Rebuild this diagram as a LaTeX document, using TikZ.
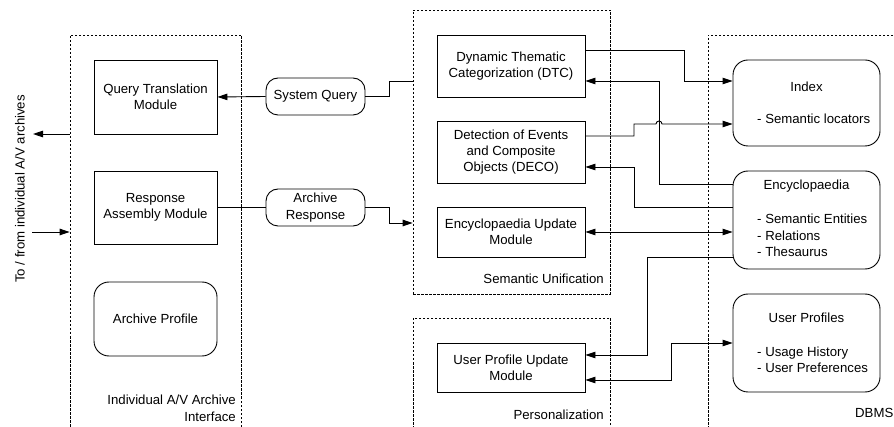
\documentclass[tikz,border=0pt]{standalone}
\usepackage{fontspec}
\setmainfont{Liberation Sans}
\usetikzlibrary{arrows.meta}
\begin{document}
\begin{tikzpicture}[x=1pt,y=-1pt,
  every node/.style={font=\fontsize{13.2}{16.4}\selectfont, inner sep=0pt},
  modbox/.style={draw, line width=0.9pt, align=center},
  roundbox/.style={draw, line width=0.9pt, align=center, rounded corners=15pt},
  pillbox/.style={draw, line width=0.9pt, align=center, rounded corners=12pt},
  container/.style={draw, line width=0.7pt, dash pattern=on 2.5pt off 1.5pt},
  conn/.style={line width=0.9pt},
  tip/.style={-{Triangle[length=10pt,width=6.5pt]}},
  bitip/.style={{Triangle[length=10pt,width=6.5pt]}-{Triangle[length=10pt,width=6.5pt]}}
]
\path[use as bounding box, clip] (0,0) rectangle (894,427);
\fill[white] (0,0) rectangle (894,427);

% containers
\node[container, minimum width=171pt, minimum height=405pt] (iface) at (155.5,237.5) {};
\node[container, minimum width=197pt, minimum height=284pt] (su) at (511.5,152) {};
\node[container, minimum width=197pt, minimum height=122pt] (pers) at (511.5,379) {};
\node[container, minimum width=202pt, minimum height=405pt] (dbms) at (809,237.5) {};

\node[anchor=north east, align=right] (ifacelbl) at (236,395) {Individual A/V Archive\\Interface};
\node[anchor=north east] (sulbl) at (604,274) {Semantic Unification};
\node[anchor=north east] (perslbl) at (604,410) {Personalization};
\node[anchor=north west] (dbmslbl) at (855,408) {DBMS};

% left interface modules
\node[modbox, minimum width=123pt, minimum height=74pt] (qtm) at (155.5,97) {Query Translation\\Module};
\node[modbox, minimum width=123pt, minimum height=73pt] (ram) at (155.5,207.5) {Response\\Assembly Module};
\node[roundbox, minimum width=123pt, minimum height=74pt] (ap) at (155.5,319) {Archive Profile};

\node[rotate=90] (ext) at (20,189) {To / from individual A/V archives};
\coordinate (outL) at (33,134);
\coordinate (inL) at (32,232);

% messages
\node[pillbox, minimum width=99pt, minimum height=37pt] (sq) at (315.5,96.5) {System Query};
\node[pillbox, minimum width=99pt, minimum height=37pt] (ar) at (315.5,207.5) {Archive\\Response};

% semantic unification modules
\node[modbox, minimum width=148pt, minimum height=62pt] (dtc) at (511,66) {Dynamic Thematic\\Categorization (DTC)};
\node[modbox, minimum width=148pt, minimum height=62pt] (deco) at (511,152) {Detection of Events\\and Composite\\Objects (DECO)};
\node[modbox, minimum width=148pt, minimum height=50pt] (eum) at (511,232) {Encyclopaedia Update\\Module};
\node[modbox, minimum width=148pt, minimum height=49pt] (upum) at (511,367.5) {User Profile Update\\Module};

% DBMS stores
\node[roundbox, minimum width=147pt, minimum height=86pt] (index) at (806.5,103) {};
\node (indext) at (806.5,87) {Index};
\node[anchor=west] (indexl) at (757,119) {- Semantic locators};

\node[roundbox, minimum width=147pt, minimum height=98pt] (enc) at (806.5,220) {};
\node (enct) at (806.5,186) {Encyclopaedia};
\node[anchor=west, align=left] (encl) at (757,235.5) {- Semantic Entities\\- Relations\\- Thesaurus};

\node[roundbox, minimum width=147pt, minimum height=98pt] (up) at (806.5,343) {};
\node (upt) at (806.5,318) {User Profiles};
\node[anchor=west, align=left] (upl) at (757,360) {- Usage History\\- User Preferences};

% connectors: left side
\draw[conn, tip] ([yshift=103.5pt]iface.west) -- (outL);
\draw[conn, tip] (inL) -- ([yshift=5.5pt]iface.west);
\draw[conn, tip] (sq.west) -- (qtm.east);
\draw[conn] (ram.east) -- (ar.west);
\draw[conn] (sq.east) -| (389,81) -- ([yshift=71pt]su.west);
\draw[conn, tip] (ar.east) -| (389,223) -- ([yshift=-71pt]su.west);

% connectors: semantic unification <-> DBMS
\draw[conn, tip] ([yshift=16pt]dtc.east) -| (684,81) -- ([yshift=22pt]index.west);
\draw[conn, tip] ([yshift=36pt]enc.west) -| (659,81) -- ([yshift=-15pt]dtc.east);
\draw[conn, tip] ([yshift=16pt]deco.east) -| (634,124) -- (656,124)
   arc[start angle=180, end angle=0, radius=3pt] -- ([yshift=-21pt]index.west);
\draw[conn, tip] ([yshift=13pt]enc.west) -| (634,167) -- ([yshift=-15pt]deco.east);
\draw[conn, bitip] (eum.east) -- ([yshift=-12pt]enc.west);
\draw[conn, tip] ([yshift=-37pt]enc.west) -| (647,355) -- ([yshift=12.5pt]upum.east);
\draw[conn, bitip] ([yshift=-12.5pt]upum.east) -| (671,343) -- (up.west);
\end{tikzpicture}
\end{document}
